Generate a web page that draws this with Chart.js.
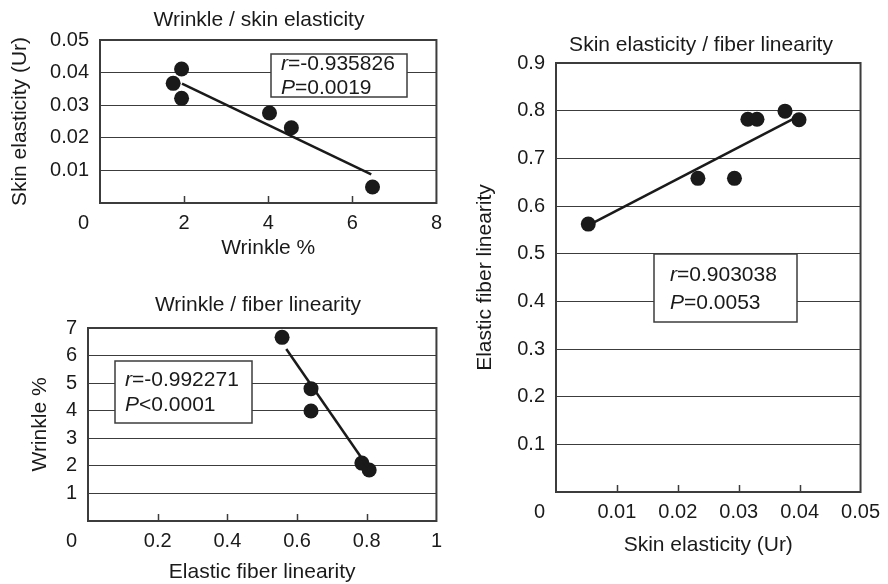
<!DOCTYPE html>
<html>
<head>
<meta charset="utf-8">
<script src="https://cdn.jsdelivr.net/npm/chart.js@4/dist/chart.umd.min.js"></script>
<style>
  html, body { margin: 0; background: #fff; }
  #wrap { position: relative; width: 888px; height: 584px; overflow: hidden; }
  .panel { position: absolute; }
</style>
</head>
<body>
<div id="wrap">
  <div class="panel" style="left:0;top:0;width:450px;height:270px"><canvas id="c1"></canvas></div>
  <div class="panel" style="left:0;top:280px;width:450px;height:304px"><canvas id="c2"></canvas></div>
  <div class="panel" style="left:450px;top:0;width:438px;height:584px"><canvas id="c3"></canvas></div>
</div>
<script>
/* Wrinkle / skin elasticity */
const wrinkleA    = [1.94, 1.74, 1.94, 4.03, 4.55, 6.48];
const elasticityA = [0.0411, 0.0367, 0.0321, 0.0276, 0.0231, 0.0049];
const fitAX       = [1.95, 6.45];
const fitAY       = [0.0366, 0.0088];
const xTicksA     = [2, 4, 6, 8];
const yTicksA     = [0.01, 0.02, 0.03, 0.04, 0.05];
const xLabelsA    = ['2', '4', '6', '8'];
const yLabelsA    = ['0.01', '0.02', '0.03', '0.04', '0.05'];

/* Wrinkle / fiber linearity */
const fiberB      = [0.557, 0.64, 0.64, 0.786, 0.807];
const wrinkleB    = [6.66, 4.8, 3.99, 2.1, 1.85];
const fitBX       = [0.569, 0.803];
const fitBY       = [6.24, 1.96];
const xTicksB     = [0.2, 0.4, 0.6, 0.8, 1];
const yTicksB     = [1, 2, 3, 4, 5, 6, 7];
const xLabelsB    = ['0.2', '0.4', '0.6', '0.8', '1'];
const yLabelsB    = ['1', '2', '3', '4', '5', '6', '7'];

/* Skin elasticity / fiber linearity */
const elasticityC = [0.0053, 0.0233, 0.0293, 0.0315, 0.033, 0.0376, 0.0399];
const fiberC      = [0.562, 0.658, 0.658, 0.782, 0.782, 0.799, 0.781];
const fitCX       = [0.006, 0.0396];
const fitCY       = [0.564, 0.787];
const xTicksC     = [0.01, 0.02, 0.03, 0.04, 0.05];
const yTicksC     = [0.1, 0.2, 0.3, 0.4, 0.5, 0.6, 0.7, 0.8, 0.9];
const xLabelsC    = ['0.01', '0.02', '0.03', '0.04', '0.05'];
const yLabelsC    = ['0.1', '0.2', '0.3', '0.4', '0.5', '0.6', '0.7', '0.8', '0.9'];

const $    = id => document.getElementById(id);
const INK  = '#1a1a1a';
const GRID = '#3c3c3c';
const FONT = '"Liberation Sans", Arial, sans-serif';
const FS   = 20;   // tick labels
const TS   = 21;   // titles and r/P box
const XPAD = 8;

const pairs = (xs, ys) => xs.map((x, i) => ({ x, y: ys[i] }));

/* title, origin "0", inner x ticks, frame, r/P box */
const annot = {
  id: 'annot',
  afterDraw(chart, args, o) {
    const { ctx, chartArea: a, scales: { x } } = chart;
    ctx.save();
    ctx.fillStyle = INK;
    ctx.textBaseline = 'middle';

    ctx.font = `${TS}px ${FONT}`;
    ctx.textAlign = 'center';
    ctx.fillText(o.title, o.titleX, o.titleY);

    ctx.font = `${FS}px ${FONT}`;
    ctx.textAlign = 'right';
    ctx.fillText('0', a.left - 11, a.bottom + XPAD + FS * 0.6);

    ctx.strokeStyle = GRID;
    ctx.lineWidth = 1.5;
    ctx.beginPath();
    x.ticks.forEach(t => {
      if (t.value <= x.min || t.value >= x.max) return;
      const px = Math.round(x.getPixelForValue(t.value)) + 0.5;
      ctx.moveTo(px, a.bottom);
      ctx.lineTo(px, a.bottom - 7);
    });
    ctx.stroke();

    ctx.lineWidth = 2;
    ctx.strokeRect(a.left, a.top, a.right - a.left, a.bottom - a.top);

    const b = o.box;
    ctx.fillStyle = '#fff';
    ctx.fillRect(a.left + b.x, a.top + b.y, b.w, b.h);
    ctx.lineWidth = 1.5;
    ctx.strokeRect(a.left + b.x, a.top + b.y, b.w, b.h);
    ctx.fillStyle = INK;
    ctx.textAlign = 'left';
    o.stats.forEach((s, i) => {
      const tx = a.left + b.x + b.tx, ty = a.top + b.y + b.ty[i];
      ctx.font = `italic ${TS}px ${FONT}`;
      ctx.fillText(s[0], tx, ty);
      const w = ctx.measureText(s[0]).width;
      ctx.font = `${TS}px ${FONT}`;
      ctx.fillText(s[1], tx + w, ty);
    });
    ctx.restore();
  }
};

function scatter(id, o) {
  const font = { family: FONT, size: FS };
  const tfont = { family: FONT, size: TS };
  return new Chart($(id), {
    type: 'scatter',
    data: {
      datasets: [
        { data: o.pts, pointRadius: 7.5, pointHoverRadius: 7.5, backgroundColor: INK, borderWidth: 0, order: 2 },
        { type: 'line', data: o.fit, borderColor: INK, borderWidth: 2.5, pointRadius: 0, order: 1 }
      ]
    },
    options: {
      responsive: true,
      maintainAspectRatio: false,
      animation: false,
      devicePixelRatio: 1,
      layout: { padding: o.pad },
      plugins: { legend: { display: false }, tooltip: { enabled: false }, annot: o.annot },
      scales: {
        x: {
          type: 'linear', min: o.xMin, max: o.xMax,
          afterBuildTicks: s => { s.ticks = o.xTicks.map(value => ({ value })); },
          afterFit: s => { s.height = o.xH; },
          ticks: { callback: (v, i) => o.xLabels[i], font, color: INK, padding: XPAD, maxRotation: 0, autoSkip: false },
          grid: { display: false, drawTicks: false },
          border: { display: false },
          title: { display: true, text: o.xTitle, font: tfont, color: INK, padding: { top: 0, bottom: o.xTitlePad } }
        },
        y: {
          type: 'linear', min: o.yMin, max: o.yMax,
          afterBuildTicks: s => { s.ticks = o.yTicks.map(value => ({ value })); },
          afterFit: s => { s.width = o.yW; },
          ticks: { callback: (v, i) => o.yLabels[i], font, color: INK, padding: 11, autoSkip: false },
          grid: { color: GRID, lineWidth: 1, drawTicks: false },
          border: { display: false },
          title: { display: true, text: o.yTitle, font: tfont, color: INK, padding: { top: o.yTitlePad, bottom: 0 } }
        }
      }
    },
    plugins: [annot]
  });
}

scatter('c1', {
  pts: pairs(wrinkleA, elasticityA), fit: pairs(fitAX, fitAY),
  xMin: 0, xMax: 8, yMin: 0, yMax: 0.05,
  xTicks: xTicksA, yTicks: yTicksA, xLabels: xLabelsA, yLabels: yLabelsA,
  xTitle: 'Wrinkle %', yTitle: 'Skin elasticity (Ur)',
  pad: { top: 40, right: 9, left: 0, bottom: 0 }, yW: 100, xH: 67,
  xTitlePad: 9.4, yTitlePad: 7.4,
  annot: {
    title: 'Wrinkle / skin elasticity', titleX: 259, titleY: 20,
    box: { x: 171, y: 14, w: 136, h: 43, tx: 10, ty: [10, 34] },
    stats: [['r', '=-0.935826'], ['P', '=0.0019']]
  }
});

scatter('c2', {
  pts: pairs(fiberB, wrinkleB), fit: pairs(fitBX, fitBY),
  xMin: 0, xMax: 1, yMin: 0, yMax: 7,
  xTicks: xTicksB, yTicks: yTicksB, xLabels: xLabelsB, yLabels: yLabelsB,
  xTitle: 'Elastic fiber linearity', yTitle: 'Wrinkle %',
  pad: { top: 48, right: 7, left: 0, bottom: 0 }, yW: 88, xH: 63,
  xTitlePad: -1, yTitlePad: 27.4,
  annot: {
    title: 'Wrinkle / fiber linearity', titleX: 258, titleY: 25,
    box: { x: 27, y: 33, w: 137, h: 62, tx: 10, ty: [19, 44] },
    stats: [['r', '=-0.992271'], ['P', '<0.0001']]
  }
});

scatter('c3', {
  pts: pairs(elasticityC, fiberC), fit: pairs(fitCX, fitCY),
  xMin: 0, xMax: 0.05, yMin: 0, yMax: 0.9,
  xTicks: xTicksC, yTicks: yTicksC, xLabels: xLabelsC, yLabels: yLabelsC,
  xTitle: 'Skin elasticity (Ur)', yTitle: 'Elastic fiber linearity',
  pad: { top: 63, right: 21, left: 0, bottom: 0 }, yW: 106, xH: 92,
  xTitlePad: 26.4, yTitlePad: 22.4,
  annot: {
    title: 'Skin elasticity / fiber linearity', titleX: 251, titleY: 45,
    box: { x: 98, y: 191, w: 143, h: 68, tx: 16, ty: [21, 49] },
    stats: [['r', '=0.903038'], ['P', '=0.0053']]
  }
});
</script>
</body>
</html>
